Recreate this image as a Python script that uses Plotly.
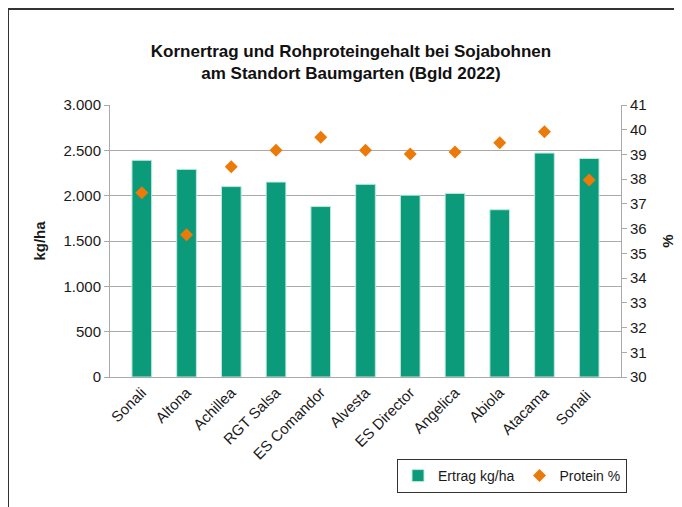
import plotly.graph_objects as go

categories = ["Sonali", "Altona", "Achillea", "RGT Salsa", "ES Comandor", "Alvesta",
              "ES Director", "Angelica", "Abiola", "Atacama", "Sonali "]
ertrag = [2390, 2290, 2100, 2150, 1880, 2125, 2005, 2025, 1845, 2470, 2410]
protein = [37.45, 35.75, 38.5, 39.17, 39.7, 39.17, 39.02, 39.1, 39.47, 39.92, 37.97]

left_ticks = [0, 500, 1000, 1500, 2000, 2500, 3000]
left_labels = ["0", "500", "1.000", "1.500", "2.000", "2.500", "3.000"]
right_ticks = list(range(30, 42))

FONT = "Liberation Sans, Arial, sans-serif"
OFF = 8  # page body margin
W, H = 682 - OFF, 507 - OFF
L, R, T, B = 110 - OFF, 69 - OFF, 105 - OFF, 130
pw, ph = W - L - R, H - T - B

def px(x):
    return (x - OFF - L) / pw

def py(y):
    return (H - B - (y - OFF)) / ph

fig = go.Figure()
fig.add_trace(go.Bar(x=categories, y=ertrag, name="Ertrag kg/ha",
                     marker=dict(color="#0b9b7a", line=dict(color="#bfe9dd", width=1)),
                     yaxis="y"))
fig.add_trace(go.Scatter(x=categories, y=protein, name="Protein %", mode="markers",
                         marker=dict(symbol="diamond", size=10, color="#ec7a08"),
                         yaxis="y2"))

fig.update_layout(
    width=W, height=H,
    margin=dict(l=L, r=R, t=T, b=B, autoexpand=False),
    paper_bgcolor="white", plot_bgcolor="white",
    font=dict(family=FONT, size=15, color="#1a1a1a"),
    bargap=0.56,
    showlegend=True,
    title=dict(text="<b>Kornertrag und Rohproteingehalt bei Sojabohnen<br>am Standort Baumgarten (Bgld 2022)</b>",
               x=(351 - OFF) / W, xanchor="center", xref="container",
               y=1 - (57 - OFF) / H, yanchor="middle", yref="container",
               font=dict(size=17, family=FONT, color="#111")),
    xaxis=dict(tickangle=-45, tickfont=dict(size=15), showline=True, linecolor="#aaaaaa",
               linewidth=1, ticks="", showgrid=False),
    yaxis=dict(range=[0, 3000], tickvals=left_ticks, ticktext=left_labels,
               showgrid=True, gridcolor="#aaaaaa", gridwidth=1,
               showline=True, linecolor="#aaaaaa", linewidth=1,
               ticks="outside", ticklen=5, tickcolor="#aaaaaa",
               tickfont=dict(size=15), zeroline=False,
               title=dict(text="<b>kg/ha</b>", font=dict(size=15), standoff=14)),
    yaxis2=dict(range=[30, 41], tickvals=right_ticks, overlaying="y", side="right",
                showgrid=False, showline=True, linecolor="#aaaaaa", linewidth=1,
                ticks="outside", ticklen=5, tickcolor="#aaaaaa",
                tickfont=dict(size=15), zeroline=False,
                title=dict(text="<b>%</b>", font=dict(size=15), standoff=16)),
    legend=dict(orientation="h", x=px(397), xanchor="left", y=py(459), yanchor="top",
                bordercolor="#333333", borderwidth=1, bgcolor="white",
                font=dict(size=14), itemwidth=30, tracegroupgap=0),
    shapes=[dict(type="rect", xref="paper", yref="paper",
                 x0=px(8), x1=px(720), y0=py(540), y1=py(9),
                 line=dict(color="#333333", width=2), fillcolor="rgba(0,0,0,0)", layer="below")],
)

fig.write_html("out.html")
